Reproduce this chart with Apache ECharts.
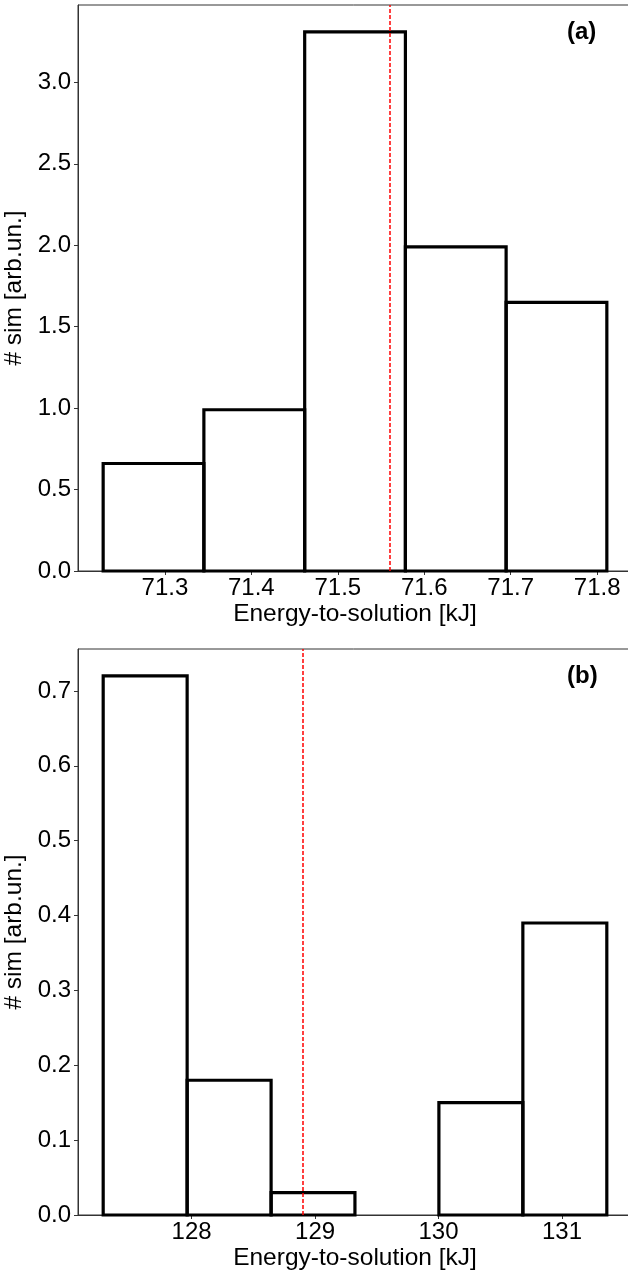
<!DOCTYPE html>
<html>
<head>
<meta charset="utf-8">
<script src="https://cdn.jsdelivr.net/npm/echarts@6/dist/echarts.min.js"></script>
<style>
  html, body { margin: 0; padding: 0; background: #fff; }
  #main { width: 628px; height: 1273px; }
</style>
</head>
<body>
<div id="main"></div>
<script>
// panel (a): histogram bin edges and densities
const edgesA = [71.2286, 71.3451, 71.4617, 71.5782, 71.6947, 71.8112];
const heightsA = [0.66, 0.99, 3.31, 1.99, 1.65];
const meanA = 71.5616;
const xTicksA = [71.3, 71.4, 71.5, 71.6, 71.7, 71.8];
const yTicksA = [0, 0.5, 1.0, 1.5, 2.0, 2.5, 3.0];

// panel (b)
const edgesB = [127.284, 127.964, 128.644, 129.323, 130.003, 130.683, 131.363];
const heightsB = [0.72, 0.18, 0.03, 0, 0.15, 0.39];
const meanB = 128.896;
const xTicksB = [128, 129, 130, 131];
const yTicksB = [0, 0.1, 0.2, 0.3, 0.4, 0.5, 0.6, 0.7];

const font = 'Liberation Sans';
const fs = 24;

// [left edge, right edge, height] for every bin
function bins(edges, heights) {
  let out = [];
  for (let i = 0; i < heights.length; i++) {
    out.push([edges[i], edges[i + 1], heights[i]]);
  }
  return out;
}

function renderBin(params, api) {
  let h = api.value(2);
  if (!h) return;
  let p0 = api.coord([api.value(0), 0]);
  let p1 = api.coord([api.value(1), h]);
  return {
    type: 'rect',
    shape: { x: p0[0], y: p1[1], width: p1[0] - p0[0], height: p0[1] - p1[1] },
    style: { fill: 'rgba(0,0,0,0)', stroke: '#000', lineWidth: 3.2 }
  };
}

function xAxisOf(idx, min, max, ticks, digits) {
  return {
    type: 'value', gridIndex: idx, min: min, max: max,
    name: 'Energy-to-solution [kJ]', nameLocation: 'middle', nameGap: 31,
    nameTextStyle: { fontFamily: font, fontSize: 24.5, color: '#000' },
    splitLine: { show: false },
    axisLine: { show: true, onZero: false, lineStyle: { color: '#333', width: 1 } },
    axisTick: { show: true, length: 4, customValues: ticks, lineStyle: { color: '#333' } },
    axisLabel: {
      customValues: ticks, margin: 5, fontFamily: font, fontSize: fs, color: '#000',
      formatter: v => v.toFixed(digits)
    }
  };
}

function yAxisOf(idx, max, ticks) {
  return {
    type: 'value', gridIndex: idx, min: 0, max: max,
    name: '# sim [arb.un.]', nameLocation: 'middle', nameGap: 37,
    nameTextStyle: { fontFamily: font, fontSize: 24.5, color: '#000' },
    splitLine: { show: false },
    axisLine: { show: true, lineStyle: { color: '#333', width: 1 } },
    axisTick: { show: true, length: 4, customValues: ticks, lineStyle: { color: '#333' } },
    axisLabel: {
      customValues: ticks, margin: 7, fontFamily: font, fontSize: fs, color: '#000',
      formatter: v => v.toFixed(1)
    }
  };
}

function meanLine(v) {
  return {
    silent: true, symbol: 'none', label: { show: false },
    lineStyle: { color: '#f00', type: [4, 2], width: 1.5, opacity: 1 },
    data: [{ xAxis: v }]
  };
}

let chart = echarts.init(document.getElementById('main'));
chart.setOption({
  animation: false,
  backgroundColor: '#fff',
  grid: [
    { left: 78, top: 5, width: 554, height: 566, show: true, borderColor: '#333', borderWidth: 1, outerBoundsMode: 'none', containLabel: false },
    { left: 78, top: 649, width: 554, height: 566, show: true, borderColor: '#333', borderWidth: 1, outerBoundsMode: 'none', containLabel: false }
  ],
  xAxis: [
    xAxisOf(0, 71.1995, 71.8403, xTicksA, 1),
    xAxisOf(1, 127.080, 131.567, xTicksB, 0)
  ],
  yAxis: [
    yAxisOf(0, 3.4755, yTicksA),
    yAxisOf(1, 0.756, yTicksB)
  ],
  series: [
    {
      type: 'custom', xAxisIndex: 0, yAxisIndex: 0,
      renderItem: renderBin, data: bins(edgesA, heightsA),
      encode: { x: [0, 1], y: 2 },
      markLine: meanLine(meanA), z: 2
    },
    {
      type: 'custom', xAxisIndex: 1, yAxisIndex: 1,
      renderItem: renderBin, data: bins(edgesB, heightsB),
      encode: { x: [0, 1], y: 2 },
      markLine: meanLine(meanB), z: 2
    }
  ],
  graphic: [
    { type: 'text', left: 567, top: 20, style: { text: '(a)', font: 'bold ' + fs + 'px ' + font, fill: '#000' } },
    { type: 'text', left: 567, top: 664, style: { text: '(b)', font: 'bold ' + fs + 'px ' + font, fill: '#000' } }
  ]
});
</script>
</body>
</html>
